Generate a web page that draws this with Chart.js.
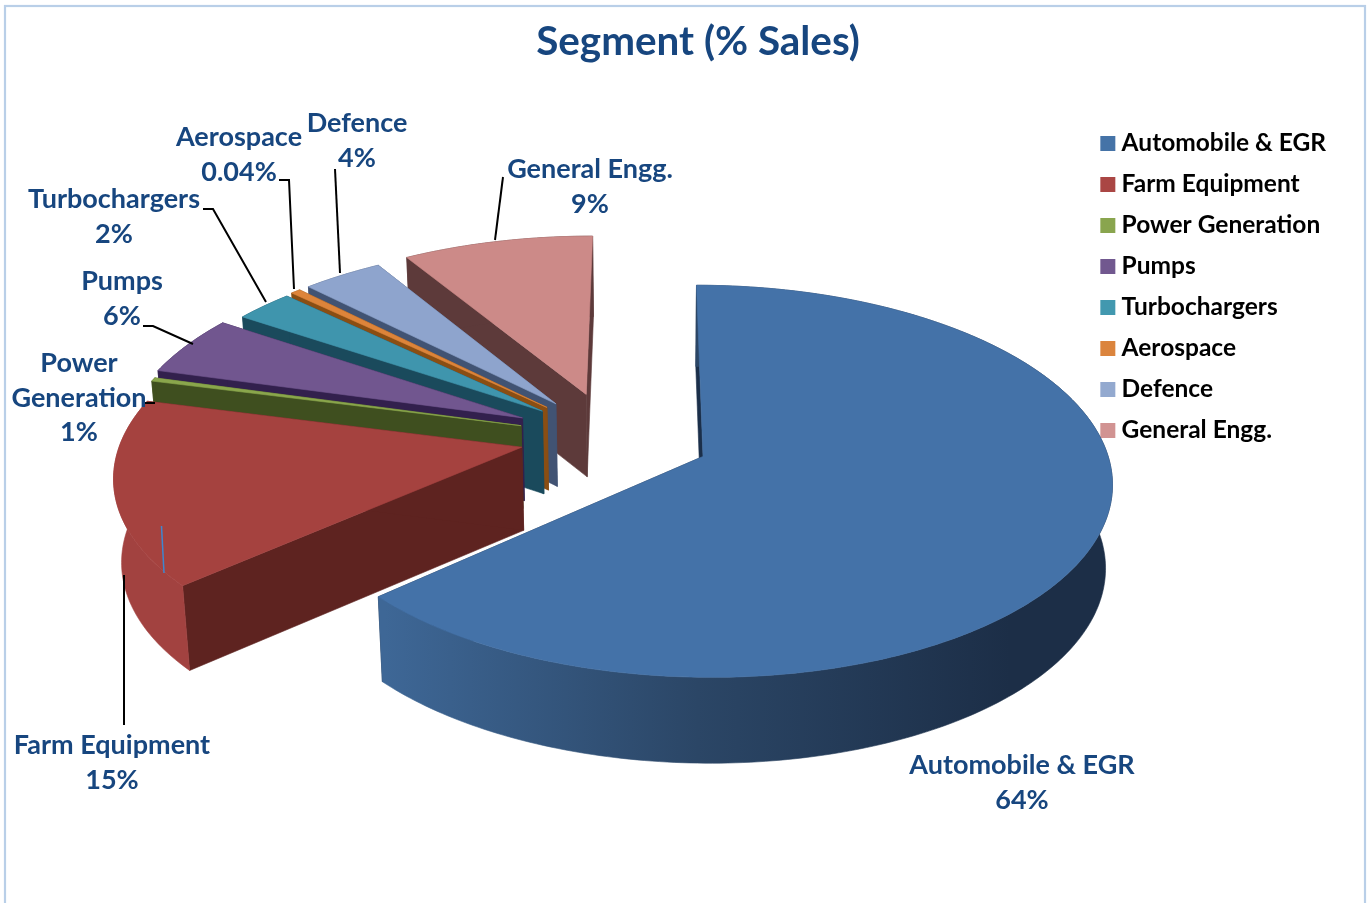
<!DOCTYPE html>
<html>
<head>
<meta charset="utf-8">
<title>Segment (% Sales)</title>
<style>html,body{margin:0;padding:0;background:#fff}canvas{display:block}</style>
<script src="https://cdn.jsdelivr.net/npm/chart.js@4/dist/chart.umd.min.js"></script>
</head>
<body>
<canvas id="c" width="1367" height="903"></canvas>
<script>
const chartTitle = 'Segment (% Sales)';
const categories = ['Automobile & EGR','Farm Equipment','Power Generation','Pumps','Turbochargers','Aerospace','Defence','General Engg.'];
const salesShare = [63.4,15.6,0.3,5.05,2.7,0.45,3.7,8.8];
const percentLabels = ['64%','15%','1%','6%','2%','0.04%','4%','9%'];
const topColors = ['#4472a8','#a5423f','#8aa64c','#71568f','#3f95ad','#dd843a','#8ea4cd','#cc8a88'];
const legendColors = ['#4573a7','#aa4644','#89a54e','#71588f','#4298af','#db843d','#93a9cf','#d19392'];
const radialWallColors = ['#1b2f4a','#5e2320','#3f4f1f','#32204d','#1a4a5c','#8a4e13','#415373','#5d3a3a'];
const outerWallColors = ['#2b4666','#a24240','#3f4f1f','#32204d','#1a4a5c','#8a4e13','#415373','#5d3a3a'];
const explode = [100,91,94,99,90,92,92,97];

const view = {x:611, y:437, tilt:0.47, persp:0.125, depth:83, depthGrow:0.012, vanishX:650, shrink:0.985, perspX:645};
const labelLayout = [
  {lines:['Automobile & EGR'], x:1022, y:765.5, lead:[]},
  {lines:['Farm Equipment'], x:112, y:745.5, lead:[[124,725],[124,575]]},
  {lines:['Power','Generation'], x:79, y:363.5, lead:[[145,403],[155,403]]},
  {lines:['Pumps'], x:122, y:281.5, lead:[[143,326],[153,326],[193,344]]},
  {lines:['Turbochargers'], x:114, y:199.5, lead:[[203,209],[213,209],[266,302]]},
  {lines:['Aerospace'], x:239, y:137.5, lead:[[279,180],[289,180],[294,289]]},
  {lines:['Defence'], x:357, y:123.5, lead:[[335,169],[340,273]]},
  {lines:['General Engg.'], x:590, y:169.5, lead:[[503,177],[495,240]]}
];
const FONT = 'Lato, "Open Sans", sans-serif';
const TEXT = '#17467f';

function project(el, u, v){
  const w = 1 - view.persp * v / el.outerRadius;
  return [view.perspX + (view.x + u - view.perspX) / w, view.y + view.tilt * v / w];
}
function drop(p){
  return [view.vanishX + (p[0] - view.vanishX) * view.shrink, p[1] + view.depth + (p[1] - view.y) * view.depthGrow];
}
function fillPoly(ctx, pts, style){
  ctx.beginPath();
  pts.forEach((p,i)=> i ? ctx.lineTo(p[0],p[1]) : ctx.moveTo(p[0],p[1]));
  ctx.closePath();
  ctx.fillStyle = style; ctx.strokeStyle = style; ctx.lineWidth = 0.6;
  ctx.fill(); ctx.stroke();
}
const pie3d = {
  id:'pie3d',
  beforeDraw(chart){
    const ctx = chart.ctx;
    ctx.save();
    ctx.fillStyle = '#fff'; ctx.fillRect(0,0,chart.width,chart.height);
    ctx.strokeStyle = '#b9cfe8'; ctx.lineWidth = 2.2;
    ctx.strokeRect(5,6,1360,1000);
    ctx.restore();
  },
  beforeDatasetsDraw(chart){
    const ctx = chart.ctx, arcs = chart.getDatasetMeta(0).data;
    ctx.save();
    for (let i = arcs.length - 1; i >= 0; i--){
      const el = arcs[i], R = el.outerRadius, a0 = el.startAngle, a1 = el.endAngle;
      const mid = (a0 + a1) / 2, off = el.options.offset;
      const ou = Math.cos(mid) * off, ov = Math.sin(mid) * off;
      const apex = project(el, ou, ov);
      const rim = [];
      const n = Math.max(4, Math.ceil((a1 - a0) * 60));
      for (let s = 0; s <= n; s++){
        const a = a0 + (a1 - a0) * s / n;
        rim.push(project(el, ou + R * Math.cos(a), ov + R * Math.sin(a)));
      }
      const first = rim[0], last = rim[rim.length - 1];
      fillPoly(ctx, [apex, first, drop(first), drop(apex)], radialWallColors[i]);
      fillPoly(ctx, [apex, last, drop(last), drop(apex)], radialWallColors[i]);
      let wall = outerWallColors[i];
      if (i === 0){
        wall = ctx.createLinearGradient(385,0,1010,0);
        wall.addColorStop(0,'#3e6796'); wall.addColorStop(0.5,'#2b4666'); wall.addColorStop(1,'#1c2e47');
      }
      fillPoly(ctx, rim.concat(rim.map(drop).reverse()), wall);
      fillPoly(ctx, [apex].concat(rim), topColors[i]);
    }
    ctx.strokeStyle = '#3f86cf'; ctx.lineWidth = 1.5;
    ctx.beginPath(); ctx.moveTo(161.5,526); ctx.lineTo(164,573); ctx.stroke();
    ctx.restore();
    return false;
  },
  afterDraw(chart){
    const ctx = chart.ctx;
    ctx.save();
    ctx.strokeStyle = '#000'; ctx.lineWidth = 2;
    labelLayout.forEach(l=>{
      if (!l.lead.length) return;
      ctx.beginPath();
      l.lead.forEach((p,i)=> i ? ctx.lineTo(p[0],p[1]) : ctx.moveTo(p[0],p[1]));
      ctx.stroke();
    });
    ctx.font = 'bold 27px ' + FONT;
    ctx.fillStyle = TEXT; ctx.textAlign = 'center'; ctx.textBaseline = 'middle';
    labelLayout.forEach((l,i)=>{
      l.lines.concat(percentLabels[i]).forEach((t,j)=> ctx.fillText(t, l.x, l.y + j * 34.5));
    });
    ctx.restore();
  }
};
new Chart(document.getElementById('c'), {
  type:'pie',
  plugins:[pie3d],
  data:{labels:categories, datasets:[{data:salesShare, backgroundColor:legendColors, offset:explode, borderWidth:0}]},
  options:{
    responsive:false, animation:false, radius:400,
    layout:{padding:{left:60,right:31,top:5,bottom:99}},
    plugins:{
      tooltip:{enabled:false},
      title:{display:true,text:chartTitle,color:TEXT,font:{family:FONT,size:40.4,weight:'bold'},padding:{top:13,bottom:10}},
      legend:{
        position:'right',align:'start',
        title:{display:true,text:' ',font:{size:1},padding:{top:108.5,bottom:0}},
        labels:{
          color:'#000',boxWidth:3,boxHeight:3,padding:16.5,
          font:{family:FONT,size:24.5,weight:'bold',lineHeight:1.25},
          generateLabels(chart){
            return chart.data.labels.map((text,i)=>({
              text,index:i,fillStyle:legendColors[i],strokeStyle:legendColors[i],lineWidth:12,hidden:false,fontColor:'#000'
            }));
          }
        }
      }
    }
  }
});
</script>
</body>
</html>
